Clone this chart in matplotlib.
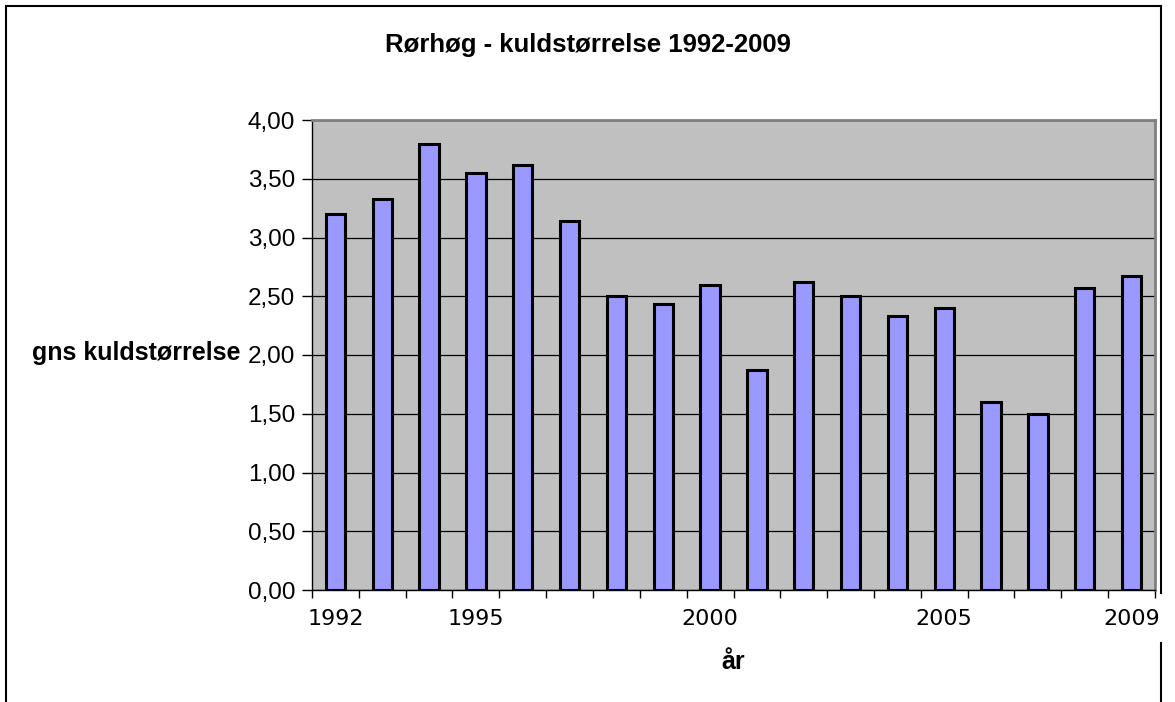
import numpy as np
import matplotlib.pyplot as plt
from matplotlib.lines import Line2D
from matplotlib.ticker import FixedLocator, FuncFormatter

years = list(range(1992, 2010))
values = [3.20, 3.33, 3.80, 3.55, 3.62, 3.14, 2.50, 2.43, 2.60, 1.87,
          2.62, 2.50, 2.33, 2.40, 1.60, 1.50, 2.57, 2.67]
label_years = [1992, 1995, 2000, 2005, 2009]
yticks = [0, 0.5, 1, 1.5, 2, 2.5, 3, 3.5, 4]

W, H = 1175, 702
fig = plt.figure(figsize=(W / 100, H / 100), dpi=100)
fig.patch.set_facecolor('white')

ax = fig.add_axes([312 / W, 1 - 590 / H, (1155 - 312) / W, (590 - 120) / H])
ax.set_facecolor('#c0c0c0')

x = np.arange(len(years))
ax.bar(x, values, width=0.41, color='#9999ff', edgecolor='black', linewidth=2.2, zorder=3)

ax.set_xlim(-0.5, len(years) - 0.5)
ax.set_ylim(0, 4)

ax.set_yticks(yticks)
ax.yaxis.set_major_formatter(FuncFormatter(lambda v, p: f"{v:.2f}".replace('.', ',')))
ax.grid(axis='y', color='black', linewidth=0.9, zorder=1)
ax.tick_params(axis='y', length=7, width=1, pad=5, labelsize=17.5)
for lab in ax.get_yticklabels():
    lab.set_fontfamily('Liberation Sans')

pos = [years.index(yv) for yv in label_years]
ax.set_xticks(pos)
ax.set_xticklabels([str(yv) for yv in label_years], fontfamily='DejaVu Sans', fontsize=16)
ax.tick_params(axis='x', which='major', length=0, pad=14)
ax.xaxis.set_minor_locator(FixedLocator(np.arange(-0.5, len(years), 1.0)))
ax.tick_params(axis='x', which='minor', length=6, width=1, color='black')

for s in ['left', 'bottom']:
    ax.spines[s].set_color('black')
    ax.spines[s].set_linewidth(1)
for s in ['top', 'right']:
    ax.spines[s].set_color('#808080')
    ax.spines[s].set_linewidth(2)

fig.text(588 / W, 1 - 45 / H, 'Rørhøg - kuldstørrelse 1992-2009', ha='center', va='center',
         fontsize=18.5, fontweight='bold', fontfamily='Liberation Sans')
fig.text(241 / W, 1 - 353 / H, 'gns kuldstørrelse', ha='right', va='center',
         fontsize=18, fontweight='bold', fontfamily='Liberation Sans')
fig.text(733 / W, 1 - 662 / H, 'år', ha='center', va='center',
         fontsize=18, fontweight='bold', fontfamily='Liberation Sans')

# outer chart border
def fline(x0, y0, x1, y1):
    fig.add_artist(Line2D([x0 / W, x1 / W], [1 - y0 / H, 1 - y1 / H],
                          transform=fig.transFigure, color='black', linewidth=1.5))

fline(6, 6, 1161, 6)
fline(6, 6, 6, 702)
fline(1161, 6, 1161, 593)
fline(1161, 643, 1161, 702)

fig.savefig('out.png', dpi=100)
